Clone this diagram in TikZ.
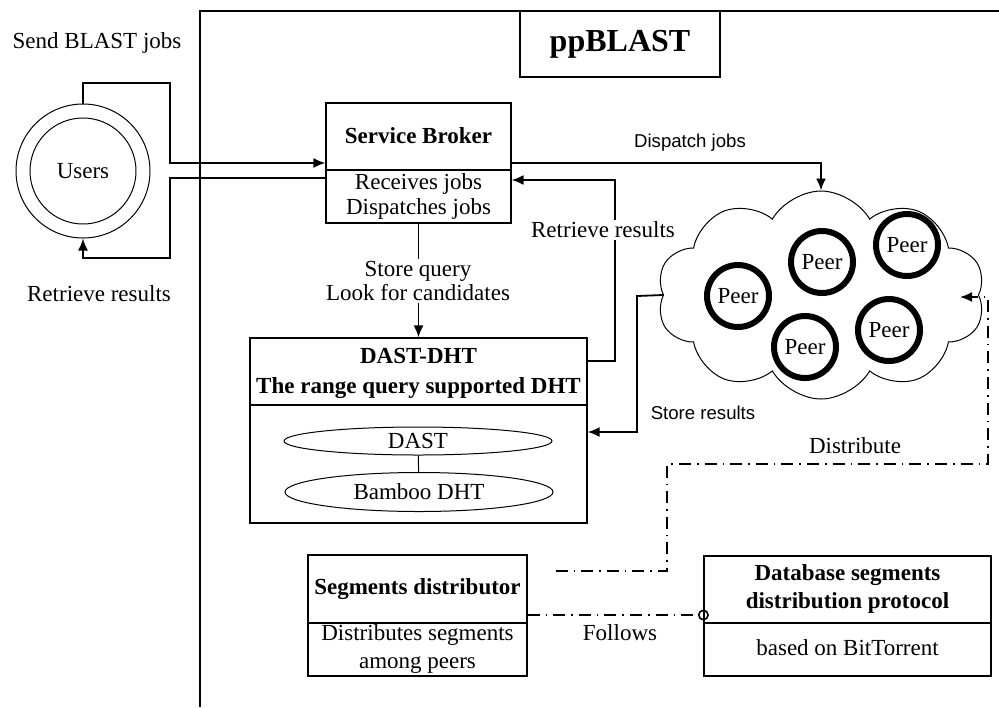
\documentclass[tikz,border=0pt]{standalone}
\usepackage{fontspec}
\setmainfont{Liberation Serif}
\setsansfont{Liberation Sans}
\usetikzlibrary{arrows.meta, shapes.geometric, shapes.symbols}

\begin{document}
\begin{tikzpicture}[
    x=0.5pt, y=-0.5pt,
    font=\fontsize{11.5}{13}\selectfont,
    every node/.style={inner sep=0pt},
    box/.style={draw, line width=0.6pt, rectangle},
    boxtitle/.style={align=center, font=\fontsize{11.5}{14.5}\selectfont\bfseries},
    body/.style={align=center},
    peer/.style={circle, draw, line width=3pt, minimum size=31pt},
    dhtlayer/.style={ellipse, draw, line width=0.5pt, minimum width=134pt, text height=7pt, text depth=0pt},
    flow/.style={line width=0.9pt, -{Latex[length=6pt,width=5pt]}},
    dashdot/.style={line width=0.8pt, dash pattern=on 6pt off 3pt on 0.8pt off 3pt},
    lbl/.style={fill=white, inner sep=1pt, align=center},
    sanslbl/.style={font=\sffamily\fontsize{9.3}{11}\selectfont}
]
   \useasboundingbox (0,0) rectangle (999,707);

   % frame of the system
   \draw[line width=0.6pt] (200,707) -- (200,11) -- (999,11);
   \node[box, minimum width=100pt, minimum height=33pt, font=\fontsize{16}{18}\selectfont\bfseries] (sysname) at (620,44) {ppBLAST};

   % Users
   \node[circle, draw, line width=0.5pt, minimum size=67pt] (usersout) at (83,171) {};
   \node[circle, draw, line width=0.5pt, minimum size=53pt] (users) at (83,171) {Users};
   \node (sendlbl) at (97,43) {Send BLAST jobs};
   \node (retrlbl) at (99,294) {Retrieve results};

   % Service broker
   \node[box, minimum width=92.5pt, minimum height=60pt] (sb) at (418.5,163) {};
   \draw[line width=0.6pt] (sb.west |- 0,170) -- (sb.east |- 0,170);
   \node[boxtitle] (sbname) at (418.5,136) {Service Broker};
   \node[body, font=\fontsize{11.5}{12.5}\selectfont] (sbops) at (418.5,196) {Receives jobs\\Dispatches jobs};

   % DAST-DHT
   \node[box, minimum width=168.5pt, minimum height=92.5pt] (dht) at (418.5,430.5) {};
   \draw[line width=0.6pt] (dht.west |- 0,405) -- (dht.east |- 0,405);
   \node[boxtitle, font=\fontsize{11.5}{15}\selectfont\bfseries] (dhtname) at (418.5,373) {DAST-DHT\\The range query supported DHT};
   \node[dhtlayer, minimum height=14pt] (dastlayer) at (418,441) {DAST};
   \node[dhtlayer, minimum height=19.5pt] (bamboo) at (419,492) {Bamboo DHT};
   \draw[line width=0.5pt] (dastlayer) -- (bamboo);

   % Peers in the cloud
   \node[cloud, draw, line width=0.5pt, cloud puffs=10, cloud puff arc=120, cloud ignores aspect,
         shape border rotate=18, minimum width=164pt, minimum height=104pt] (net) at (821,295) {};
   \coordinate (netin) at (960,297);
   \node[peer] (peer1) at (738,296) {Peer};
   \node[peer] (peer2) at (822,262) {Peer};
   \node[peer] (peer3) at (907,245) {Peer};
   \node[peer] (peer4) at (805,347) {Peer};
   \node[peer] (peer5) at (889,330) {Peer};

   % Segments distributor and protocol
   \node[box, minimum width=109.5pt, minimum height=60.5pt] (seg) at (417.5,615.5) {};
   \draw[line width=0.6pt] (seg.west |- 0,623) -- (seg.east |- 0,623);
   \node[boxtitle] (segname) at (417.5,589) {Segments distributor};
   \node[body, font=\fontsize{11.5}{14}\selectfont] (segops) at (417.5,649) {Distributes segments\\among peers};

   \node[box, minimum width=143.5pt, minimum height=60pt] (db) at (847.5,616) {};
   \draw[line width=0.6pt] (db.west |- 0,623) -- (db.east |- 0,623);
   \node[boxtitle, font=\fontsize{11.5}{14}\selectfont\bfseries] (dbname) at (847.5,589) {Database segments\\distribution protocol};
   \node[body] (dbops) at (847.5,648) {based on BitTorrent};

   % Flows
   \draw[flow] (usersout.north) -- (83,83) -| (170,163) -- (sb.west |- 0,163);
   \draw[flow] (sb.west |- 0,178) -- (170,178) |- (83,258) -- (usersout.south);
   \draw[flow] (sb.east |- 0,163) -| (net);
   \draw[flow] (sb.south) -- (dht.north);
   \draw[flow] (dht.east |- 0,361) -- (615,361) |- (sb.east |- 0,180);
   \draw[flow] (net.west) -- (637,296) |- (dht.east |- 0,432);
   \draw[flow, dashdot, shorten <=14pt] (seg.east |- 0,571) -- (667,571) |- (988,464) |- (netin);
   \draw[dashdot, -{Circle[open,length=5.5pt]}, shorten >=-2.75pt] (seg.east |- 0,615) -- (db.west |- 0,615);

   % Labels
   \node[lbl] (retrlbl2) at (603,230) {Retrieve results};
   \node[lbl, font=\fontsize{11.5}{12}\selectfont] (querylbl) at (418,281) {Store query\\Look for candidates};
   \node[sanslbl] (dispatchlbl) at (690,143) {Dispatch jobs};
   \node[sanslbl] (storelbl) at (703,413) {Store results};
   \node (distlbl) at (855,446) {Distribute};
   \node (followlbl) at (620,633) {Follows};
\end{tikzpicture}
\end{document}
